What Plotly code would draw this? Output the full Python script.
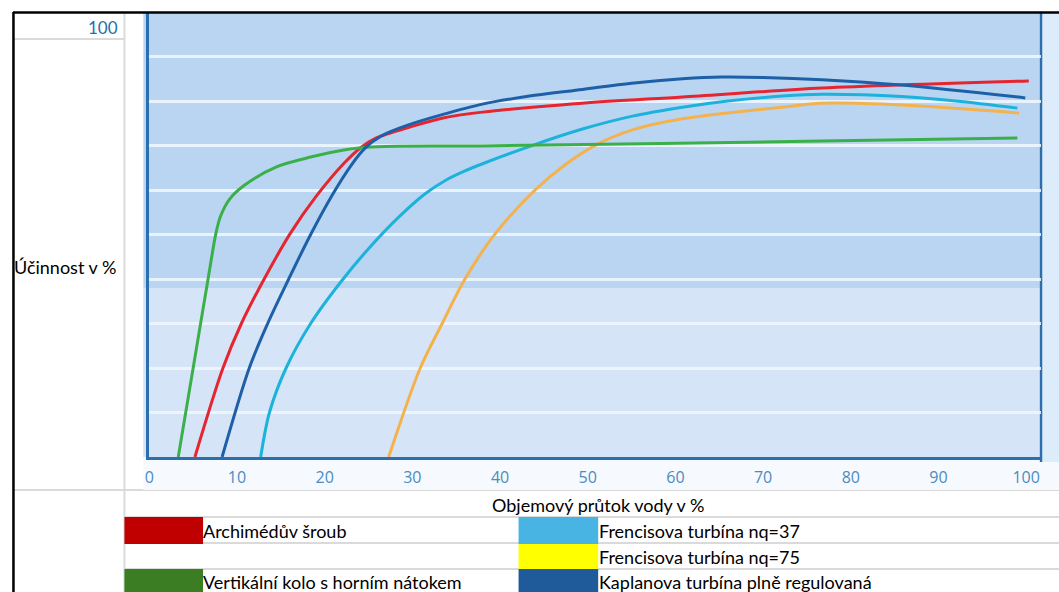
import plotly.graph_objects as go

W, H = 1059, 592

# ---- data ----
x_tick_values = [0, 10, 20, 30, 40, 50, 60, 70, 80, 90, 100]

archimedes_x = [5.2, 8.4, 10.5, 13.1, 16.1, 19.0, 22.2, 24.1, 25.9, 29.8, 33.5, 38.0, 49.4, 60.8, 76.7, 100.3]
archimedes_y = [0, 20, 30, 40, 50.3, 58.5, 66.0, 69.5, 71.7, 74.2, 76.2, 77.5, 79.5, 80.9, 82.9, 84.5]

francis37_x = [12.7, 13.7, 15.6, 18.4, 21.9, 25.0, 28.5, 31.5, 33.9, 36.0, 38.0, 43.8, 49.4, 55.1, 60.8, 66.0, 72.2, 76.7, 85.8, 92.0, 99.0]
francis37_y = [0, 10, 20, 30, 39.5, 46.8, 54.0, 59.2, 62.3, 64.3, 65.9, 70.1, 73.7, 76.6, 78.6, 80.0, 81.1, 81.5, 81.0, 80.0, 78.4]

francis75_x = [27.3, 30.9, 33.4, 36.0, 39.5, 44.1, 47.5, 50.9, 55.1, 60.8, 72.2, 76.7, 85.8, 99.2]
francis75_y = [0, 20, 30, 40, 50.3, 60.2, 65.8, 70.1, 73.5, 76.0, 78.6, 79.5, 79.1, 77.3]

vertical_x = [3.3, 5.0, 6.7, 7.6, 8.1, 9.1, 10.8, 14.5, 18.4, 22.2, 25.9, 38.0, 76.7, 99.0]
vertical_y = [0, 20, 40, 50.3, 54.0, 57.8, 61.0, 65.2, 67.4, 69.0, 69.7, 69.9, 71.0, 71.7]

kaplan_x = [8.3, 11.4, 13.5, 15.9, 18.4, 20.9, 23.0, 24.6, 26.5, 29.8, 33.5, 38.0, 43.0, 49.4, 55.0, 60.8, 65.3, 70.0, 76.7, 85.8, 99.9]
kaplan_y = [0, 20, 30, 40, 50, 59.0, 65.5, 69.4, 72.2, 74.8, 77.0, 79.3, 81.0, 82.6, 84.0, 85.0, 85.4, 85.3, 84.8, 83.6, 80.7]

series_names = ["Archimédův šroub", "Frencisova turbína nq=37", "Frencisova turbína nq=75",
                "Vertikální kolo s horním nátokem", "Kaplanova turbína plně regulovaná"]
y_axis_title = "Účinnost v %"
x_axis_title = "Objemový průtok vody v %"
y_top_label = "100"

# ---- styles ----
line_colors = ["#e52530", "#1cb2dc", "#f4b24e", "#3bb04a", "#1d60a8"]
swatch_colors = ["#c00000", "#47b4e4", "#ffff00", "#3a7d22", "#1f5b9a"]


def px(x):
    return x / W


def py(y):
    return 1 - y / H


fig = go.Figure()
series = [(archimedes_x, archimedes_y), (francis37_x, francis37_y), (francis75_x, francis75_y),
          (vertical_x, vertical_y), (kaplan_x, kaplan_y)]
for (xs, ys), name, col in zip(series, series_names, line_colors):
    fig.add_trace(go.Scatter(x=xs, y=ys, mode="lines", name=name,
                             line=dict(color=col, width=3, shape="spline", smoothing=0.9),
                             showlegend=False, hoverinfo="skip"))

shapes = []
def rect(x0, y0, x1, y1, color, layer="below"):
    shapes.append(dict(type="rect", xref="paper", yref="paper", x0=px(x0), x1=px(x1), y0=py(y1), y1=py(y0),
                       fillcolor=color, line=dict(width=0), layer=layer))

def hline(x0, x1, y, color, width, layer="below"):
    shapes.append(dict(type="line", xref="paper", yref="paper", x0=px(x0), x1=px(x1), y0=py(y), y1=py(y),
                       line=dict(color=color, width=width), layer=layer))

def vline(x, y0, y1, color, width, layer="below"):
    shapes.append(dict(type="line", xref="paper", yref="paper", x0=px(x), x1=px(x), y0=py(y0), y1=py(y1),
                       line=dict(color=color, width=width), layer=layer))

# spreadsheet grid
grid = "#dadada"
hline(9, 120, 39, grid, 2)
hline(9, W, 490, grid, 2)
for yy in (517, 543, 569):
    hline(120, W, yy, grid, 2)
vline(120, 12, H, grid, 2)

# chart picture background
rect(139, 12, W, 490, "#f6f9fd")
rect(139, 12, 1041, 288, "#b9d5f1")
rect(139, 288, 1041, 457, "#d5e4f7")
rect(1043, 12, W, 462, "#dcecfb")
vline(1041, 12, 462, "#2c6fae", 2.5)

# outer black border
hline(8, W, 12.5, "#000000", 2.5, layer="above")
vline(8.5, 12, H, "#000000", 2.5, layer="above")

# legend swatches
rect(120, 517, 199, 544, swatch_colors[0], layer="above")
rect(516, 517, 596, 544, swatch_colors[1], layer="above")
rect(516, 544, 596, 569, swatch_colors[2], layer="above")
rect(120, 569, 199, H, swatch_colors[3], layer="above")
rect(516, 569, 596, H, swatch_colors[4], layer="above")

cell_font = dict(family="Lato, Carlito, Calibri, sans-serif", size=18, color="#000000")
annotations = [
    dict(text=y_top_label, x=px(116), y=py(28), xref="paper", yref="paper", xanchor="right", yanchor="middle",
         showarrow=False, font=dict(family="Lato, sans-serif", size=17, color="#1f6fa6")),
    dict(text=y_axis_title, x=px(7), y=py(267), xref="paper", yref="paper", xanchor="left", yanchor="middle",
         showarrow=False, font=cell_font),
    dict(text=x_axis_title, x=px(596), y=py(505), xref="paper", yref="paper", xanchor="center", yanchor="middle",
         showarrow=False, font=cell_font),
]
legend_pos = [(197, 531), (595, 531), (595, 557), (197, 582), (595, 582)]
for name, (lx, ly) in zip(series_names, legend_pos):
    annotations.append(dict(text=name, x=px(lx), y=py(ly), xref="paper", yref="paper", xanchor="left",
                            yanchor="middle", showarrow=False, font=cell_font))

x0_px, x100_px = 145, 1026
xmax = (1041 - x0_px) / ((x100_px - x0_px) / 100)

fig.update_layout(
    width=W, height=H, margin=dict(l=0, r=0, t=0, b=0),
    paper_bgcolor="#ffffff", plot_bgcolor="rgba(0,0,0,0)",
    shapes=shapes, annotations=annotations, showlegend=False,
    xaxis=dict(domain=[px(x0_px), px(1041)], range=[0, xmax], showgrid=False, zeroline=False,
               showline=True, linecolor="#2c6fae", linewidth=2.5,
               tickvals=x_tick_values, ticks="", ticklabelstandoff=4,
               tickfont=dict(family="Open Sans, sans-serif", size=16, color="#4a8cc2")),
    yaxis=dict(domain=[py(457), py(12)], range=[0, 100], dtick=10, showgrid=True,
               gridcolor="rgba(240,248,255,0.85)", gridwidth=2.5, zeroline=False,
               showline=True, linecolor="#2c6fae", linewidth=2.5, showticklabels=False, ticks=""),
)

fig.write_html("out.html", config={"displayModeBar": False},
               post_script="document.body.style.margin='0';document.body.style.overflow='hidden';")
